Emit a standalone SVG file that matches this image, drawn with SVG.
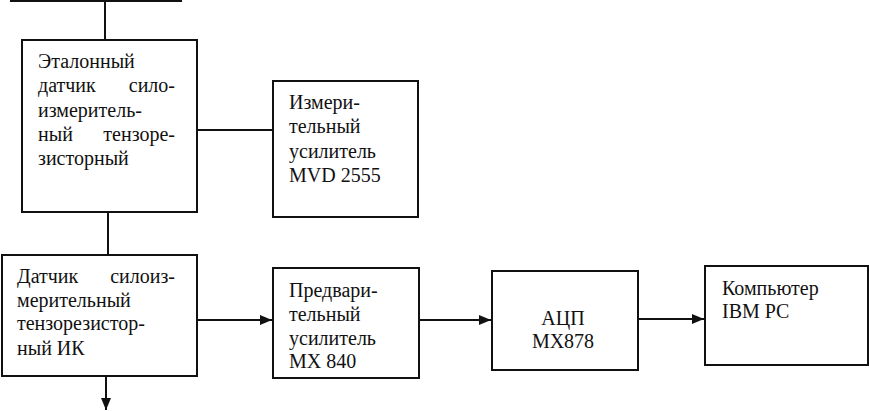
<svg xmlns="http://www.w3.org/2000/svg" width="869" height="411" viewBox="0 0 869 411">
<style>
.box{fill:#fff;stroke:#111;stroke-width:2}
.ln{fill:none;stroke:#111;stroke-width:2}
text{font-family:'Liberation Serif',Tinos,'Times New Roman','DejaVu Serif',serif;font-size:20px;fill:#111}
.e{text-anchor:end}
.m{text-anchor:middle}
</style>
<defs>
<marker id="ah" markerWidth="12" markerHeight="10" refX="12" refY="5" orient="auto" markerUnits="userSpaceOnUse">
<path d="M0,0 L12,5 L0,10 Z" fill="#111"/>
</marker>
</defs>
<rect width="869" height="411" fill="#fff"/>
<g id="connectors">
<line class="ln" x1="10" y1="1" x2="182" y2="1"/>
<line class="ln" x1="105" y1="0" x2="105" y2="40"/>
<line class="ln" x1="108" y1="212" x2="108" y2="255"/>
<line class="ln" x1="197" y1="130" x2="273" y2="130"/>
<line class="ln" x1="197" y1="320" x2="272" y2="320" marker-end="url(#ah)"/>
<line class="ln" x1="419" y1="320" x2="491" y2="320" marker-end="url(#ah)"/>
<line class="ln" x1="638" y1="319" x2="704" y2="319" marker-end="url(#ah)"/>
<line class="ln" x1="106" y1="376" x2="106" y2="410" marker-end="url(#ah)"/>
</g>
<g id="etalon">
<rect class="box" x="22" y="40" width="175" height="172"/>
<text x="38" y="68">Эталонный</text>
<text x="38" y="92">датчик</text><text class="e" x="175" y="92">сило-</text>
<text x="38" y="117">измеритель-</text>
<text x="38" y="141">ный</text><text class="e" x="175" y="141">тензоре-</text>
<text x="38" y="165">зисторный</text>
</g>
<g id="mvd">
<rect class="box" x="273" y="81" width="145" height="136"/>
<text x="289" y="109">Измери-</text>
<text x="289" y="133">тельный</text>
<text x="289" y="158">усилитель</text>
<text x="289" y="182">MVD 2555</text>
</g>
<g id="datchik">
<rect class="box" x="2" y="255" width="195" height="121"/>
<text x="17" y="283">Датчик</text><text class="e" x="175" y="283">силоиз-</text>
<text x="17" y="307">мерительный</text>
<text x="17" y="330">тензорезистор-</text>
<text x="17" y="355">ный ИК</text>
</g>
<g id="predv">
<rect class="box" x="273" y="268" width="146" height="110"/>
<text x="289" y="297">Предвари-</text>
<text x="289" y="321">тельный</text>
<text x="289" y="345">усилитель</text>
<text x="289" y="368">МХ 840</text>
</g>
<g id="adc">
<rect class="box" x="492" y="271" width="146" height="99"/>
<text class="m" x="563" y="325">АЦП</text>
<text class="m" x="563" y="348">МХ878</text>
</g>
<g id="pc">
<rect class="box" x="705" y="266" width="163" height="99"/>
<text x="722" y="295">Компьютер</text>
<text x="722" y="318">IBM PC</text>
</g>
</svg>
